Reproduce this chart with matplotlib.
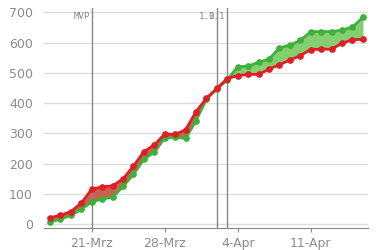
import datetime
import numpy as np
import matplotlib
matplotlib.use("Agg")
import matplotlib.pyplot as plt
import matplotlib.dates as mdates

# daily values, 17 Mar - 16 Apr
start = datetime.date(2020, 3, 17)
red_vals = [22, 30, 42, 70, 116, 124, 127, 150, 192, 240, 262, 298, 297, 312, 372,
            416, 449, 481, 491, 495, 495, 512, 527, 542, 557, 577, 578, 578, 598, 609, 611]
green_vals = [9, 17, 30, 50, 74, 84, 89, 125, 165, 215, 238, 285, 287, 284, 342,
              413, 446, 477, 520, 522, 535, 545, 583, 591, 607, 636, 636, 636, 641, 651, 683]
tick_dates = [datetime.date(2020, 3, 21), datetime.date(2020, 3, 28),
              datetime.date(2020, 4, 4), datetime.date(2020, 4, 11)]
tick_labels = ["21-Mrz", "28-Mrz", "4-Apr", "11-Apr"]
releases = [(datetime.date(2020, 3, 21), "MVP"), (datetime.date(2020, 4, 2), "1.0"),
            (datetime.date(2020, 4, 3), "1.1")]
yticks = [0, 100, 200, 300, 400, 500, 600, 700]

dates = [start + datetime.timedelta(days=i) for i in range(len(red_vals))]
x = mdates.date2num(dates)
red = np.array(red_vals)
green = np.array(green_vals)

fig = plt.figure(figsize=(3.8, 2.5), dpi=100)
ax = fig.add_axes([0.1158, 0.0868, 0.8526, 0.8812])

for v in yticks:
    ax.axhline(v, color="#dddddd", lw=1, zorder=0)

ax.fill_between(x, red, green, where=green >= red, interpolate=True,
                color="#84cf6f", lw=0, zorder=1)
ax.fill_between(x, red, green, where=red >= green, interpolate=True,
                color="#c9634f", lw=0, zorder=1)

ax.plot(x, green, color="#3fb03c", lw=2, marker="o", ms=3.8, zorder=3)
ax.plot(x, red, color="#e01e26", lw=2, marker="o", ms=3.8, zorder=4)

for d, name in releases:
    xd = mdates.date2num(d)
    ax.axvline(xd, color="#888888", lw=1, zorder=2)
    ax.text(xd - 0.15, 702, name, ha="right", va="top", fontsize=6.6,
            family="DejaVu Sans Mono", color="#8a8a8a")

ax.set_xlim(x[0] - 0.575, x[0] + 30.49)
ax.set_ylim(-13, 714)

ax.set_yticks(yticks)
ax.set_yticklabels([str(v) for v in yticks])
ax.set_xticks(mdates.date2num(tick_dates))
ax.set_xticklabels(tick_labels)

for s in ["top", "right", "left"]:
    ax.spines[s].set_visible(False)
ax.spines["bottom"].set_color("#888888")
ax.tick_params(axis="y", length=0, pad=8, labelsize=9, labelcolor="#8c8c8c")
ax.tick_params(axis="x", length=3, color="#888888", pad=3, labelsize=9,
               labelcolor="#8c8c8c")

fig.savefig("out.png", dpi=100)
